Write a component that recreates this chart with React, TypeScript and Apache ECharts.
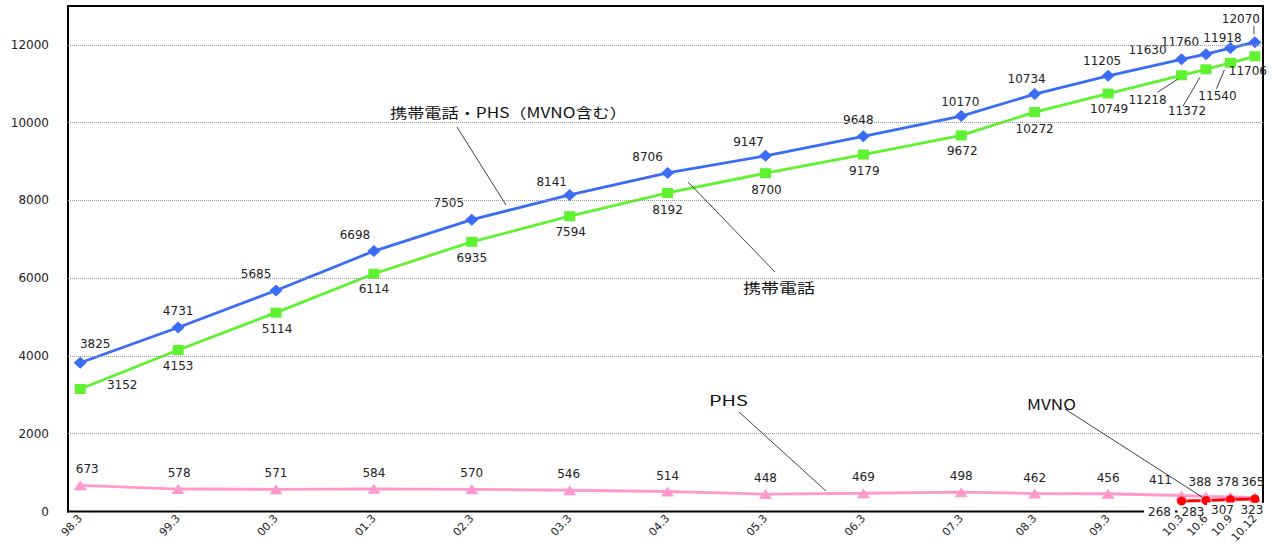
import React, { useEffect, useRef } from 'react';
import * as echarts from 'echarts';

// ---- data ----
const periods = ['98.3', '99.3', '00.3', '01.3', '02.3', '03.3', '04.3', '05.3', '06.3', '07.3', '08.3', '09.3', '10.3', '10.6', '10.9', '10.12'];
// position of each period on the (unevenly spaced) original category axis, in quarter steps
const periodSlots = [0, 4, 8, 12, 16, 20, 24, 28, 32, 36, 39, 42, 45, 46, 47, 48];
const totalValues = [3825, 4731, 5685, 6698, 7505, 8141, 8706, 9147, 9648, 10170, 10734, 11205, 11630, 11760, 11918, 12070];
const mobileValues = [3152, 4153, 5114, 6114, 6935, 7594, 8192, 8700, 9179, 9672, 10272, 10749, 11218, 11372, 11540, 11706];
const phsValues = [673, 578, 571, 584, 570, 546, 514, 448, 469, 498, 462, 456, 411, 388, 378, 365];
const mvnoPeriods = ['10.3', '10.6', '10.9', '10.12'];
const mvnoValues = [268, 283, 307, 323];
const yTickValues = [0, 2000, 4000, 6000, 8000, 10000, 12000];

// ---- layout (label offsets from each point, callout leader lines) ----
const totalOffsets = [[15, -19], [0, -17], [-20, -16], [-19, -16], [-23, -17], [-18, -13], [-20, -16], [-17, -14], [-5, -16], [-1, -14], [-8, -15], [-6, -15], [-34, -9], [-26, -12], [-8, -10], [-14, -23]];
const mobileOffsets = [[42, -4], [0, 16], [1, 16], [0, 15], [0, 16], [1, 16], [0, 17], [1, 17], [1, 16], [1, 16], [0, 17], [1, 15], [-34, 25], [-19, 42], [-13, 33], [-7, 15]];
const phsOffsets = [[7, -16], [1, -16], [0, -16], [0, -16], [0, -16], [-1, -16], [0, -16], [0, -16], [0, -16], [0, -16], [0, -16], [0, -16], [-21, -16], [-6, -14], [-3, -15], [-2, -15]];
const mvnoOffsets = [[-22, 11], [-13, 12], [-8, 10], [-3, 11]];
// leader lines: [seriesIndex in option, dataIndex, [sx, sy, ex, ey] relative to the point]
const leaders: [number, number, number[]][] = [
  [3, 12, [-24, 17, -4, 4]],
  [3, 13, [-23, 37, -6, 8]],
  [3, 14, [-14, 26, -6, 7]],
  [4, 15, [-1, -16, -1, -8]],
];

const annotations = [
  { text: '携帯電話・PHS（MVNO含む）', x: 390, y: 112, width: 237, line: [457, 127, 506, 205] },
  { text: '携帯電話', x: 743, y: 287, width: 72, line: [688, 182, 775, 272] },
  { text: 'PHS', x: 709, y: 400, width: 39, line: [739, 412, 826, 491] },
  { text: 'MVNO', x: 1027, y: 404, width: 49, line: [1065, 409, 1202, 497] },
];

const FONT = 'DejaVu Sans, sans-serif';
const CJK = '"Noto Sans CJK JP", "DejaVu Sans", sans-serif';

function measure(text: string, font: string): number {
  const c = document.createElement('canvas').getContext('2d');
  if (!c) return 0;
  c.font = font;
  return c.measureText(text).width;
}

function buildData(values: number[], slots: number[], offsets: number[][]) {
  return values.map((v, i) => ({ value: [slots[i], v], label: { offset: offsets[i] } }));
}

function App() {
  const ref = useRef<HTMLDivElement>(null);
  useEffect(() => {
    if (!ref.current) return;
    const chart = echarts.init(ref.current, null, { renderer: 'svg' });
    const mvnoSlots = mvnoPeriods.map((p) => periodSlots[periods.indexOf(p)]);

    const baseLabel = {
      show: true,
      position: 'inside',
      color: '#222',
      fontSize: 12,
      fontFamily: FONT,
      formatter: (p: any) => String(p.value[1]),
    };

    const seriesData = [
      null,
      buildData(phsValues, periodSlots, phsOffsets),
      buildData(mvnoValues, mvnoSlots, mvnoOffsets),
      buildData(mobileValues, periodSlots, mobileOffsets),
      buildData(totalValues, periodSlots, totalOffsets),
    ];

    chart.setOption({
      animation: false,
      backgroundColor: '#fff',
      textStyle: { fontFamily: FONT },
      grid: {
        left: 68,
        right: 11,
        top: 6,
        bottom: 32.5,
        show: true,
        borderColor: '#000',
        borderWidth: 2,
        outerBoundsMode: 'none',
      },
      xAxis: {
        type: 'value',
        min: -0.5,
        max: 48.33,
        z: 5,
        axisLine: { show: false },
        axisTick: { show: false },
        splitLine: { show: false },
        axisLabel: {
          customValues: periodSlots,
          formatter: (v: number) => {
            const i = periodSlots.indexOf(v);
            return i >= 0 ? periods[i] : '';
          },
          rotate: 47,
          margin: 5,
          fontSize: 11,
          color: '#222',
          fontFamily: FONT,
        },
      },
      yAxis: {
        type: 'value',
        min: 0,
        max: 13000,
        interval: 1000,
        axisLine: { show: true, onZero: false, lineStyle: { color: '#000', width: 2 } },
        axisTick: { show: false },
        axisLabel: {
          customValues: yTickValues,
          formatter: (v: number) => String(v),
          margin: 19,
          fontSize: 12,
          color: '#222',
          fontFamily: FONT,
        },
        splitLine: { show: false },
      },
      series: [
        {
          name: 'grid',
          type: 'line',
          data: [],
          silent: true,
          markLine: {
            silent: true,
            symbol: 'none',
            label: { show: false },
            lineStyle: { color: '#9a9a9a', type: 'dotted', width: 1 },
            data: yTickValues.slice(1).map((v) => ({ yAxis: v })),
          },
        },
        {
          name: 'PHS',
          type: 'line',
          data: seriesData[1],
          symbol: 'triangle',
          symbolSize: [13, 10],
          showAllSymbol: true,
          itemStyle: { color: '#ff99cc' },
          lineStyle: { color: '#ff99cc', width: 2.8 },
          label: baseLabel,
          emphasis: { disabled: true },
        },
        {
          name: 'MVNO',
          type: 'line',
          data: seriesData[2],
          symbol: 'circle',
          symbolSize: 9,
          showAllSymbol: true,
          itemStyle: { color: '#ff0000' },
          lineStyle: { color: '#ff0000', width: 3 },
          label: { ...baseLabel, backgroundColor: '#fff', padding: [1, 4, 1, 4] },
          emphasis: { disabled: true },
        },
        {
          name: '携帯電話',
          type: 'line',
          data: seriesData[3],
          symbol: 'rect',
          symbolSize: [11, 10],
          showAllSymbol: true,
          itemStyle: { color: '#5ef230' },
          lineStyle: { color: '#5ef230', width: 2.8 },
          label: baseLabel,
          emphasis: { disabled: true },
        },
        {
          name: '携帯電話・PHS（MVNO含む）',
          type: 'line',
          data: seriesData[4],
          symbol: 'diamond',
          symbolSize: [13, 12],
          showAllSymbol: true,
          itemStyle: { color: '#3a6cf4' },
          lineStyle: { color: '#3a6cf4', width: 2.8 },
          label: baseLabel,
          emphasis: { disabled: true },
        },
      ],
    });

    const graphic: any[] = [];
    annotations.forEach((a) => {
      const w = measure(a.text, `14px ${CJK}`);
      graphic.push({
        type: 'text',
        x: a.x,
        y: a.y,
        scaleX: w > 0 ? a.width / w : 1,
        z: 10,
        style: { text: a.text, x: 0, y: 0, fill: '#111', font: `14px ${CJK}`, textAlign: 'left', textVerticalAlign: 'middle' },
      });
      graphic.push({
        type: 'line',
        z: 10,
        shape: { x1: a.line[0], y1: a.line[1], x2: a.line[2], y2: a.line[3] },
        style: { stroke: '#111', lineWidth: 0.8 },
      });
    });
    leaders.forEach(([si, di, d]) => {
      const item: any = (seriesData[si] as any[])[di];
      const p = chart.convertToPixel({ gridIndex: 0 }, item.value) as number[];
      graphic.push({
        type: 'line',
        z: 10,
        shape: { x1: p[0] + d[0], y1: p[1] + d[1], x2: p[0] + d[2], y2: p[1] + d[3] },
        style: { stroke: '#111', lineWidth: 0.8 },
      });
    });
    chart.setOption({ graphic });

    return () => chart.dispose();
  }, []);
  return <div ref={ref} style={{ position: 'fixed', left: 0, top: 0, width: 1274, height: 544, background: '#fff' }} />;
}

export default App;
